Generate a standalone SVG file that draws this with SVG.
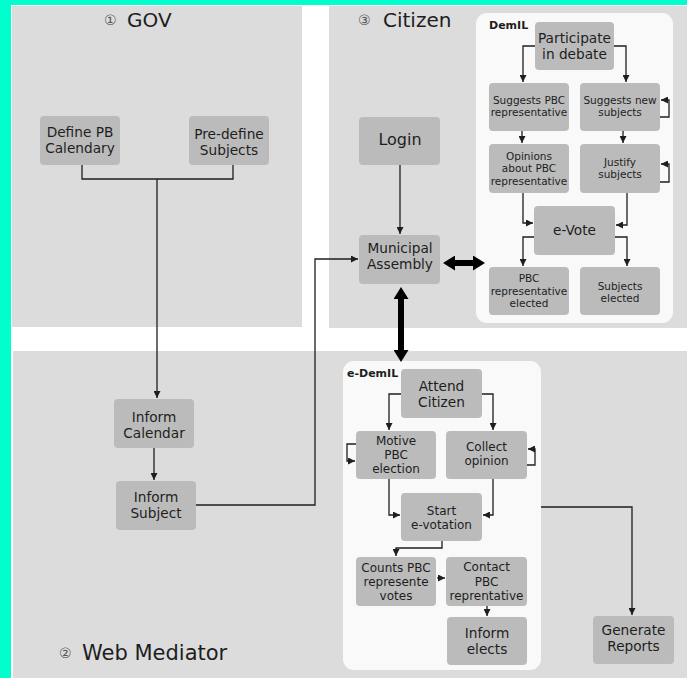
<svg xmlns="http://www.w3.org/2000/svg" width="687" height="678" viewBox="0 0 687 678">
<style>
text{font-family:"DejaVu Sans","Liberation Sans",sans-serif;fill:#1e1e1e;text-anchor:middle}
.panel{fill:#dcdcdc}
.box{fill:#f9f9f9}
.node rect{fill:#bbbbbb}
.c{fill:none;stroke:#1e1e1e;stroke-width:1.3}
.thick{fill:none;stroke:#000;stroke-width:6}
.title{font-size:20px;text-anchor:start}
.num{font-size:14px;fill:#555;text-anchor:start}
.lbl{font-size:11px;font-weight:bold;text-anchor:start}
.s{font-size:10.5px}
.m{font-size:12px}
.l{font-size:13.7px}
</style>
<defs>
<marker id="a" viewBox="0 0 8 8" refX="8" refY="4" markerWidth="7" markerHeight="7" markerUnits="userSpaceOnUse" orient="auto"><path d="M0,0L8,4L0,8z" fill="#1e1e1e"/></marker>
<marker id="t" viewBox="0 0 12 15" refX="6" refY="7.5" markerWidth="12" markerHeight="15" markerUnits="userSpaceOnUse" orient="auto-start-reverse"><path d="M0,0L12,7.5L0,15z" fill="#000"/></marker>
</defs>
<rect width="687" height="678" fill="#ffffff"/>
<rect x="0" y="0" width="687" height="5" fill="#00ffcc"/>
<rect x="0" y="0" width="11" height="678" fill="#00ffcc"/>
<rect class="panel" x="12" y="6" width="290" height="321"/>
<rect class="panel" x="329" y="6" width="358" height="322"/>
<rect class="panel" x="13" y="351" width="674" height="327"/>
<rect class="box" x="476" y="13" width="197" height="310" rx="11"/>
<rect class="box" x="343" y="361" width="198" height="309" rx="11"/>
<g id="titles">
<text class="num" x="104" y="25">①</text><text class="title" x="127" y="27">GOV</text>
<text class="num" x="358" y="25">③</text><text class="title" x="383" y="27">Citizen</text>
<text class="num" x="59" y="658">②</text><text class="title" x="82" y="660" style="font-size:21px">Web Mediator</text>
<text class="lbl" x="489" y="29">DemIL</text>
<text class="lbl" x="347" y="377">e-DemIL</text>
</g>
<g id="connectors">
<path class="c" d="M82,165V179H233V165"/>
<path class="c" d="M157,179V398" marker-end="url(#a)"/>
<path class="c" d="M154,448V480" marker-end="url(#a)"/>
<path class="c" d="M196,505H315V259H358" marker-end="url(#a)"/>
<path class="c" d="M400,165V234" marker-end="url(#a)"/>
<path class="thick" d="M449,263H479" marker-start="url(#t)" marker-end="url(#t)"/>
<path class="thick" d="M401,293V356" marker-start="url(#t)" marker-end="url(#t)"/>
<path class="c" d="M535,46H523V82" marker-end="url(#a)"/>
<path class="c" d="M614,46H626V82" marker-end="url(#a)"/>
<path class="c" d="M660,117H669V100H661" marker-end="url(#a)"/>
<path class="c" d="M522,131V143" marker-end="url(#a)"/>
<path class="c" d="M623,131V143" marker-end="url(#a)"/>
<path class="c" d="M660,182H669V164H661" marker-end="url(#a)"/>
<path class="c" d="M523,193V223H533" marker-end="url(#a)"/>
<path class="c" d="M627,193V225H616" marker-end="url(#a)"/>
<path class="c" d="M534,237H523V266" marker-end="url(#a)"/>
<path class="c" d="M615,237H627V266" marker-end="url(#a)"/>
<path class="c" d="M401,394H389V430" marker-end="url(#a)"/>
<path class="c" d="M482,394H493V430" marker-end="url(#a)"/>
<path class="c" d="M356,444H347V461H355" marker-end="url(#a)"/>
<path class="c" d="M527,465H535V449H528" marker-end="url(#a)"/>
<path class="c" d="M389,479V515H400" marker-end="url(#a)"/>
<path class="c" d="M493,479V515H483" marker-end="url(#a)"/>
<path class="c" d="M442,541V548H396V556" marker-end="url(#a)"/>
<path class="c" d="M437,578H445" marker-end="url(#a)"/>
<path class="c" d="M487,606V616" marker-end="url(#a)"/>
<path class="c" d="M541,507H632V615" marker-end="url(#a)"/>
</g>
<g id="n-define" class="node"><rect x="40" y="116" width="80" height="49" rx="4"/><text class="l" x="80" y="137">Define PB</text><text class="l" x="80" y="153">Calendary</text></g>
<g id="n-predefine" class="node"><rect x="189" y="116" width="80" height="49" rx="4"/><text class="l" x="229" y="139">Pre-define</text><text class="l" x="229" y="155">Subjects</text></g>
<g id="n-informcal" class="node"><rect x="114" y="399" width="80" height="49" rx="4"/><text class="l" x="154" y="422">Inform</text><text class="l" x="154" y="438">Calendar</text></g>
<g id="n-informsub" class="node"><rect x="116" y="481" width="80" height="49" rx="4"/><text class="l" x="156" y="502">Inform</text><text class="l" x="156" y="518">Subject</text></g>
<g id="n-login" class="node"><rect x="359" y="117" width="81" height="48" rx="4"/><text x="400" y="145" style="font-size:16px">Login</text></g>
<g id="n-municipal" class="node"><rect x="359" y="235" width="81" height="49" rx="4"/><text class="l" x="400" y="253">Municipal</text><text class="l" x="400" y="269">Assembly</text></g>
<g id="n-participate" class="node"><rect x="535" y="22" width="79" height="48" rx="4"/><text class="l" x="574.5" y="43">Participate</text><text class="l" x="574.5" y="59">in debate</text></g>
<g id="n-sugpbc" class="node"><rect x="489" y="83" width="80" height="48" rx="4"/><text class="s" x="529" y="103.5">Suggests PBC</text><text class="s" x="529" y="116">representative</text></g>
<g id="n-sugnew" class="node"><rect x="580" y="83" width="80" height="48" rx="4"/><text class="s" x="620" y="103.5">Suggests new</text><text class="s" x="620" y="116">subjects</text></g>
<g id="n-opinions" class="node"><rect x="489" y="144" width="80" height="49" rx="4"/><text class="s" x="529" y="159.5">Opinions</text><text class="s" x="529" y="172">about PBC</text><text class="s" x="529" y="184.5">representative</text></g>
<g id="n-justify" class="node"><rect x="580" y="144" width="80" height="49" rx="4"/><text class="s" x="620" y="165.5">Justify</text><text class="s" x="620" y="178">subjects</text></g>
<g id="n-evote" class="node"><rect x="534" y="206" width="81" height="49" rx="4"/><text class="l" x="574.5" y="235">e-Vote</text></g>
<g id="n-pbcelected" class="node"><rect x="489" y="267" width="80" height="48" rx="4"/><text class="s" x="529" y="282">PBC</text><text class="s" x="529" y="294.5">representative</text><text class="s" x="529" y="307">elected</text></g>
<g id="n-subelected" class="node"><rect x="580" y="267" width="80" height="48" rx="4"/><text class="s" x="620" y="289.5">Subjects</text><text class="s" x="620" y="302">elected</text></g>
<g id="n-attend" class="node"><rect x="401" y="369" width="81" height="49" rx="4"/><text class="l" x="441.5" y="391">Attend</text><text class="l" x="441.5" y="407">Citizen</text></g>
<g id="n-motive" class="node"><rect x="356" y="431" width="80" height="48" rx="4"/><text class="m" x="396" y="445">Motive</text><text class="m" x="396" y="459">PBC</text><text class="m" x="396" y="473">election</text></g>
<g id="n-collect" class="node"><rect x="446" y="431" width="81" height="48" rx="4"/><text class="m" x="486.5" y="451">Collect</text><text class="m" x="486.5" y="465">opinion</text></g>
<g id="n-start" class="node"><rect x="401" y="493" width="81" height="48" rx="4"/><text class="m" x="441.5" y="515">Start</text><text class="m" x="441.5" y="529">e-votation</text></g>
<g id="n-counts" class="node"><rect x="356" y="557" width="80" height="49" rx="4"/><text class="m" x="396" y="572">Counts PBC</text><text class="m" x="396" y="586">represente</text><text class="m" x="396" y="600">votes</text></g>
<g id="n-contact" class="node"><rect x="446" y="557" width="81" height="49" rx="4"/><text class="m" x="486.5" y="571">Contact</text><text class="m" x="486.5" y="586">PBC</text><text class="m" x="486.5" y="600">reprentative</text></g>
<g id="n-informelects" class="node"><rect x="447" y="617" width="80" height="48" rx="4"/><text class="l" x="487" y="637.5">Inform</text><text class="l" x="487" y="653.5">elects</text></g>
<g id="n-reports" class="node"><rect x="593" y="616" width="81" height="48" rx="4"/><text class="l" x="633.5" y="635">Generate</text><text class="l" x="633.5" y="651">Reports</text></g>
</svg>
